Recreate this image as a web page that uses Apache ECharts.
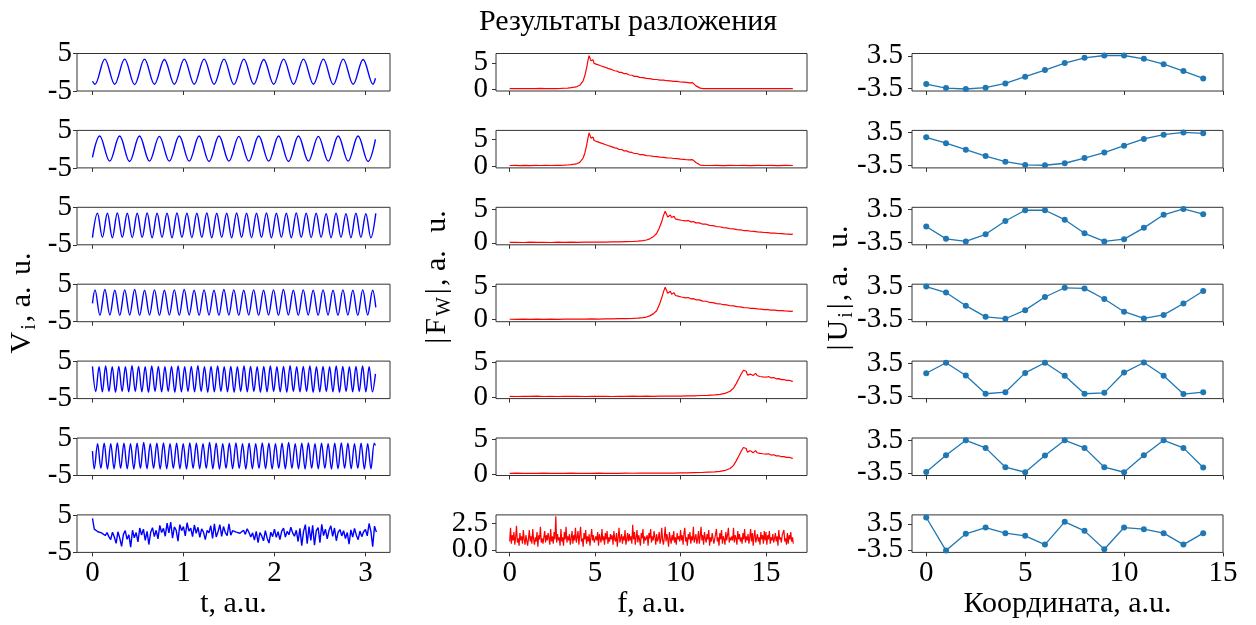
<!DOCTYPE html>
<html>
<head>
<meta charset="utf-8">
<script src="https://cdn.jsdelivr.net/npm/echarts@6.0.0/dist/echarts.min.js"></script>
<style>html,body{margin:0;padding:0;background:#fff}#main{width:1256px;height:625px}</style>
</head>
<body>
<div id="main"></div>
<script>
// ---- данные ----
// левая колонка: экстремумы синусоид (чередуются), шаг между экстремумами dt
var V1 = [-3.2,3.5,-3.2,3.5,-3.3,3.5,-3.2,3.4,-3.2,3.5,-3.2,3.5,-3.2,3.5,-3.3,3.5,-3.2,3.4,-3.2,3.5,-3.2,3.5,-3.2,3.5,-3.3,3.5,-3.2,3.4,-3.2];
var V2 = [3.5,-3.2,3.5,-3.3,3.5,-3.2,3.4,-3.2,3.5,-3.2,3.5,-3.3,3.5,-3.2,3.4,-3.2,3.5,-3.2,3.5,-3.3,3.5,-3.2,3.4,-3.2,3.5,-3.2,3.5,-3.3];
var V3 = [-3.1,3.4,-3.0,3.4,-3.1,3.5,-3.0,3.4,-3.1,3.4,-3.0,3.5,-3.1,3.4,-3.0,3.4,-3.1,3.5,-3.0,3.4,
  -3.1,3.4,-3.0,3.5,-3.1,3.4,-3.0,3.4,-3.1,3.5,-3.0,3.4,-3.1,3.4,-3.0,3.5,-3.1,3.4,-3.0,3.4,
  -3.1,3.5,-3.0,3.4,-3.1,3.4,-3.0,3.3,-3.1,3.4,-3.0,3.3,-3.1,3.4,-3.0,3.3,-3.1,3.4];
var V4 = [3.5,-3.3,3.6,-3.2,3.4,-3.3,3.5,-3.2,3.6,-3.3,3.4,-3.2,3.5,-3.3,3.4,-3.2,3.5,-3.3,3.6,-3.2,
  3.4,-3.3,3.5,-3.2,3.4,-3.3,3.6,-3.2,3.5,-3.3,3.4,-3.2,3.5,-3.3,3.4,-3.2,3.5,-3.3,3.6,-3.2,
  3.4,-3.3,3.5,-3.2,3.4,-3.3,3.5,-3.2,3.4,-3.3,3.5,-3.2,3.4,-3.3,3.5,-3.2,3.4];
var V5 = [3.6,-3.1,3.5,-3.2,3.7,-3.1,3.5,-3.3,3.6,-3.1,3.5,-3.2,3.8,-3.1,3.6,-3.2,3.5,-3.3,3.7,-3.1,
  3.6,-3.2,3.5,-3.1,3.6,-3.3,3.7,-3.2,3.5,-3.1,3.6,-3.2,3.8,-3.1,3.5,-3.3,3.6,-3.2,3.7,-3.1,
  3.5,-3.2,3.6,-3.3,3.5,-3.1,3.7,-3.2,3.6,-3.1,3.5,-3.3,3.6,-3.2,3.7,-3.1,3.5,-3.2,3.6,-3.3,
  3.8,-3.1,3.5,-3.2,3.6,-3.1,3.7,-3.3,3.5,-3.2,3.6,-3.1,3.5,-3.2,3.7,-3.3,3.6,-3.1,3.5,-3.2,
  3.6,-3.1,3.7,-3.2,3.5,-3.2];
var V6 = [-3.2,3.5,-3.1,3.6,-3.3,3.5,-3.2,3.7,-3.1,3.6,-3.2,3.5,-3.3,3.6,-3.1,3.8,-3.2,3.5,-3.1,3.6,
  -3.3,3.7,-3.2,3.5,-3.1,3.6,-3.2,3.5,-3.3,3.7,-3.1,3.6,-3.2,3.5,-3.1,3.8,-3.2,3.6,-3.3,3.5,
  -3.1,3.6,-3.2,3.7,-3.1,3.5,-3.3,3.6,-3.2,3.5,-3.1,3.7,-3.2,3.6,-3.3,3.5,-3.1,3.6,-3.2,3.8,
  -3.1,3.5,-3.2,3.6,-3.3,3.7,-3.1,3.5,-3.2,3.6,-3.1,3.5,-3.3,3.6,-3.2,3.7,-3.1,3.6,-3.2,3.5,
  -3.1,3.6,-3.3,3.5,-3.2,3.6];
// время первого экстремума, шаг, начальная и конечная точки
var WAVES = [
  { ext: V1, t0: 0.026, dt: 0.1092, start: [0, -2.4], end: [3.11, -1.6] },
  { ext: V2, t0: 0.08, dt: 0.1092, start: [0, -2.2], end: [3.11, 2.6] },
  { ext: V3, t0: 0, dt: 0.05463 },
  { ext: V4, t0: 0.0275, dt: 0.0545, start: [0, -0.1], end: [3.114, -1.2] },
  { ext: V5, t0: 0, dt: 0.0362, end: [3.11, 1.6] },
  { ext: V6, t0: 0.02, dt: 0.0362, start: [0, 1.5], end: [3.11, 3.0] }
];
// шумовой сигнал, шаг 0.02
var V7_DT = 0.02;
var V7 = [4.1,1.2,0.8,0.5,1.0,0.2,0.6,-0.5,0.3,-0.8,
  -1.6,0.4,-0.9,-2.6,0.5,-1.2,-3.4,-0.2,0.8,-1.5,
  -0.3,-3.6,0.9,-1.1,0.3,-2.2,1.5,-0.4,1.2,-1.8,
  0.6,-2.9,0.4,1.6,-0.8,0.9,-1.4,2.2,0.3,1.4,
  -0.7,2.8,0.2,3.1,-1.2,1.8,0.9,-2.0,2.4,0.8,
  1.9,-0.6,2.9,0.7,1.5,-0.8,2.3,0.1,1.7,-1.0,
  1.3,0.4,-1.6,0.9,0.2,2.1,-1.3,2.6,-0.9,0.5,
  2.4,-0.7,1.9,0.3,-0.5,2.6,-0.4,0.8,1.1,0.4,
  0.7,0.1,0.5,0.9,-0.2,1.3,0.3,-0.9,0.2,-1.7,
  0.6,-2.4,0.3,-0.6,-1.9,0.8,-1.2,-2.5,0.4,-0.8,
  1.2,-1.0,0.5,-1.6,0.7,1.5,-0.9,0.6,-0.3,1.7,
  0.2,-0.7,0.9,-2.1,1.4,-3.2,0.6,2.4,-2.7,1.9,
  -1.8,2.2,-3.1,0.8,1.6,-2.4,2.5,-0.5,1.2,-1.4,
  0.9,2.1,-0.7,1.5,-1.9,0.4,1.1,-0.6,0.8,-1.3,
  0.3,-2.8,1.0,-0.9,1.4,-0.4,-1.6,0.7,-0.8,0.5,
  1.1,-0.6,2.7,0.6,-3.5,2.0,0.4];

// средняя колонка: спектры [f, |F|]
var F1 = [[0,0.14],[0.3,0.12],[0.6,0.15],[0.9,0.11],[1.2,0.14],[1.5,0.12],[1.8,0.16],[2.1,0.13],[2.4,0.15],[2.7,0.14],[3.0,0.17],[3.2,0.2],[3.4,0.24],[3.6,0.3],[3.8,0.4],[3.95,0.52],[4.1,0.75],[4.2,1.05],[4.3,1.6],[4.4,2.6],[4.5,4.0],[4.58,5.4],[4.65,6.35],[4.7,6.2],[4.76,5.4],[4.82,5.1],[4.88,5.55],[4.94,4.9],[5.0,5.25],[5.06,4.75],[5.12,5.05],[5.2,4.6],[5.28,4.8],[5.36,4.4],[5.45,4.55],[5.55,4.2],[5.65,4.3],[5.75,3.95],[5.85,4.0],[5.95,3.75],[6.05,3.75],[6.15,3.5],[6.28,3.45],[6.4,3.2],[6.55,3.2],[6.7,2.95],[6.85,2.95],[7.0,2.7],[7.15,2.65],[7.3,2.45],[7.45,2.45],[7.6,2.25],[7.8,2.22],[8.0,2.05],[8.2,2.0],[8.4,1.88],[8.6,1.85],[8.8,1.75],[9.0,1.72],[9.2,1.62],[9.4,1.6],[9.6,1.5],[9.8,1.48],[10.0,1.38],[10.2,1.36],[10.35,1.3],[10.45,1.12],[10.52,1.22],[10.6,1.32],[10.7,1.25],[10.8,0.95],[10.9,0.65],[11.0,0.4],[11.15,0.22],[11.35,0.14],[11.7,0.12],[12.1,0.14],[12.5,0.11],[12.9,0.13],[13.3,0.12],[13.7,0.14],[14.1,0.11],[14.5,0.13],[14.9,0.12],[15.3,0.14],[15.7,0.11],[16.1,0.13],[16.57,0.12]];
var F2 = [[0,0.13],[0.3,0.15],[0.6,0.12],[0.9,0.14],[1.2,0.12],[1.5,0.15],[1.8,0.13],[2.1,0.16],[2.4,0.13],[2.7,0.15],[3.0,0.16],[3.2,0.19],[3.4,0.23],[3.6,0.29],[3.8,0.38],[3.95,0.5],[4.1,0.72],[4.2,1.0],[4.3,1.55],[4.4,2.5],[4.5,3.9],[4.58,5.3],[4.65,6.3],[4.7,6.15],[4.76,5.3],[4.82,5.0],[4.88,5.5],[4.94,4.85],[5.0,5.2],[5.06,4.7],[5.12,5.0],[5.2,4.55],[5.28,4.75],[5.36,4.35],[5.45,4.5],[5.55,4.15],[5.65,4.25],[5.75,3.9],[5.85,3.95],[5.95,3.7],[6.05,3.7],[6.15,3.45],[6.28,3.4],[6.4,3.15],[6.55,3.15],[6.7,2.9],[6.85,2.9],[7.0,2.65],[7.15,2.6],[7.3,2.4],[7.45,2.4],[7.6,2.2],[7.8,2.18],[8.0,2.0],[8.2,1.97],[8.4,1.85],[8.6,1.82],[8.8,1.7],[9.0,1.68],[9.2,1.58],[9.4,1.55],[9.6,1.45],[9.8,1.42],[10.0,1.33],[10.2,1.3],[10.35,1.22],[10.5,1.2],[10.6,1.28],[10.7,1.25],[10.8,1.0],[10.9,0.7],[11.0,0.42],[11.15,0.22],[11.35,0.14],[11.7,0.13],[12.1,0.15],[12.5,0.12],[12.9,0.14],[13.3,0.13],[13.7,0.15],[14.1,0.12],[14.5,0.14],[14.9,0.13],[15.3,0.15],[15.7,0.12],[16.1,0.14],[16.57,0.13]];
var F3 = [[0,0.06],[0.4,0.08],[0.8,0.05],[1.2,0.09],[1.6,0.06],[2.0,0.08],[2.4,0.05],[2.8,0.09],[3.2,0.07],[3.6,0.1],[4.0,0.08],[4.4,0.11],[4.8,0.09],[5.2,0.12],[5.6,0.1],[6.0,0.14],[6.4,0.13],[6.8,0.17],[7.2,0.2],[7.5,0.25],[7.8,0.32],[8.0,0.42],[8.2,0.6],[8.4,0.9],[8.6,1.4],[8.75,2.2],[8.9,3.2],[9.0,4.1],[9.1,4.75],[9.17,4.6],[9.25,3.9],[9.32,3.6],[9.4,4.2],[9.48,3.8],[9.55,3.5],[9.62,4.0],[9.7,3.6],[9.78,3.85],[9.85,3.5],[9.95,3.7],[10.05,3.4],[10.15,3.55],[10.3,3.3],[10.45,3.35],[10.6,3.15],[10.75,3.2],[10.9,3.0],[11.1,3.0],[11.3,2.8],[11.5,2.8],[11.7,2.62],[11.9,2.6],[12.1,2.45],[12.3,2.42],[12.5,2.28],[12.7,2.25],[12.9,2.12],[13.1,2.1],[13.3,1.98],[13.5,1.95],[13.7,1.85],[13.9,1.83],[14.1,1.74],[14.3,1.72],[14.5,1.64],[14.7,1.62],[14.9,1.55],[15.1,1.53],[15.3,1.47],[15.5,1.45],[15.7,1.4],[15.9,1.38],[16.1,1.34],[16.3,1.32],[16.5,1.28],[16.57,1.3]];
var F4 = [[0,0.07],[0.4,0.05],[0.8,0.08],[1.2,0.06],[1.6,0.09],[2.0,0.06],[2.4,0.08],[2.8,0.06],[3.2,0.09],[3.6,0.08],[4.0,0.1],[4.4,0.09],[4.8,0.12],[5.2,0.1],[5.6,0.13],[6.0,0.12],[6.4,0.15],[6.8,0.16],[7.2,0.2],[7.5,0.24],[7.8,0.31],[8.0,0.4],[8.2,0.58],[8.4,0.88],[8.6,1.35],[8.75,2.2],[8.9,3.3],[9.0,4.2],[9.1,4.9],[9.17,4.75],[9.25,4.0],[9.32,3.7],[9.4,4.3],[9.48,3.85],[9.55,3.55],[9.62,4.05],[9.7,3.65],[9.78,3.9],[9.85,3.55],[9.95,3.72],[10.05,3.42],[10.15,3.55],[10.3,3.3],[10.45,3.35],[10.6,3.15],[10.75,3.18],[10.9,3.0],[11.1,2.98],[11.3,2.8],[11.5,2.78],[11.7,2.6],[11.9,2.58],[12.1,2.43],[12.3,2.4],[12.5,2.26],[12.7,2.23],[12.9,2.1],[13.1,2.08],[13.3,1.96],[13.5,1.93],[13.7,1.83],[13.9,1.8],[14.1,1.72],[14.3,1.7],[14.5,1.62],[14.7,1.6],[14.9,1.53],[15.1,1.51],[15.3,1.45],[15.5,1.43],[15.7,1.38],[15.9,1.36],[16.1,1.32],[16.3,1.3],[16.5,1.26],[16.57,1.28]];
var F5 = [[0,0.12],[0.4,0.1],[0.8,0.13],[1.2,0.11],[1.6,0.14],[2.0,0.1],[2.4,0.12],[2.8,0.1],[3.2,0.13],[3.6,0.11],[4.0,0.12],[4.4,0.1],[4.8,0.13],[5.2,0.11],[5.6,0.12],[6.0,0.1],[6.4,0.13],[6.8,0.11],[7.2,0.14],[7.6,0.12],[8.0,0.15],[8.4,0.13],[8.8,0.16],[9.2,0.14],[9.6,0.17],[10.0,0.16],[10.4,0.19],[10.8,0.2],[11.2,0.24],[11.6,0.27],[12.0,0.32],[12.3,0.4],[12.6,0.55],[12.9,0.85],[13.1,1.3],[13.25,1.9],[13.4,2.6],[13.55,3.3],[13.68,3.85],[13.76,4.0],[13.84,3.7],[13.92,3.15],[14.0,2.9],[14.08,3.3],[14.16,3.5],[14.24,3.1],[14.32,3.0],[14.4,3.4],[14.48,3.1],[14.56,3.3],[14.64,2.95],[14.72,3.2],[14.82,2.9],[14.92,3.1],[15.02,2.85],[15.15,2.95],[15.3,2.75],[15.45,2.8],[15.6,2.62],[15.75,2.65],[15.9,2.5],[16.05,2.52],[16.2,2.4],[16.35,2.42],[16.5,2.3],[16.57,2.25]];
var F6 = [[0,0.11],[0.4,0.13],[0.8,0.1],[1.2,0.12],[1.6,0.1],[2.0,0.13],[2.4,0.11],[2.8,0.12],[3.2,0.1],[3.6,0.13],[4.0,0.11],[4.4,0.12],[4.8,0.1],[5.2,0.13],[5.6,0.11],[6.0,0.12],[6.4,0.1],[6.8,0.13],[7.2,0.12],[7.6,0.14],[8.0,0.13],[8.4,0.15],[8.8,0.14],[9.2,0.16],[9.6,0.15],[10.0,0.18],[10.4,0.17],[10.8,0.21],[11.2,0.23],[11.6,0.28],[12.0,0.31],[12.3,0.38],[12.6,0.52],[12.9,0.8],[13.1,1.25],[13.25,1.85],[13.4,2.55],[13.55,3.25],[13.68,3.8],[13.76,3.95],[13.84,3.65],[13.92,3.1],[14.0,2.95],[14.08,3.35],[14.16,3.45],[14.24,3.05],[14.32,3.05],[14.4,3.35],[14.48,3.05],[14.56,3.25],[14.64,2.95],[14.72,3.15],[14.82,2.9],[14.92,3.05],[15.02,2.85],[15.15,2.9],[15.3,2.72],[15.45,2.76],[15.6,2.6],[15.75,2.62],[15.9,2.48],[16.05,2.5],[16.2,2.38],[16.35,2.4],[16.5,2.28],[16.57,2.24]];
// шумовой спектр, шаг 0.05
var F7_DF = 0.05;
var F7 = [0.8,2.1,0.6,1.4,0.9,1.7,0.5,1.2,2.3,0.7,1.1,0.4,1.6,0.9,1.3,0.6,1.9,1.0,0.5,1.4,
  1.5,0.4,1.1,1.9,0.8,1.3,0.6,2.0,1.0,0.5,1.2,0.8,1.7,0.3,1.4,1.0,2.2,0.7,1.1,0.6,
  1.2,1.8,0.7,1.4,0.9,1.6,1.1,0.5,2.0,0.8,1.3,0.6,1.7,1.0,3.2,0.7,1.5,0.9,1.2,0.4,
  2.0,0.8,1.2,0.4,1.7,1.0,2.2,0.7,1.3,0.9,1.5,0.5,1.1,1.8,0.6,1.4,0.9,2.1,0.7,1.2,
  1.8,0.5,1.4,2.2,0.8,1.1,0.3,1.6,1.0,1.9,0.6,1.3,0.8,1.5,0.4,1.2,2.0,0.9,1.4,0.7,
  0.6,1.3,0.9,1.7,0.4,1.5,1.1,0.7,2.0,0.9,1.3,0.5,1.6,1.0,1.8,0.6,1.2,0.8,1.5,1.0,
  1.4,0.5,1.8,1.0,0.8,1.6,0.3,1.2,2.1,0.7,1.1,1.5,0.6,1.3,0.9,1.9,0.5,1.0,1.6,0.8,
  1.5,0.9,1.3,0.6,2.4,1.0,1.7,0.5,1.2,1.9,0.7,1.4,1.0,0.4,1.6,1.1,2.0,0.6,1.3,0.9,
  0.8,1.4,0.4,1.6,1.1,2.0,0.7,1.3,0.9,1.8,1.2,0.5,1.5,0.8,1.1,1.7,0.6,1.0,2.1,0.9,
  0.5,1.2,2.2,0.8,1.5,1.0,0.3,1.7,1.1,0.6,1.4,0.9,1.8,0.7,1.2,0.5,1.6,1.0,1.3,0.8,
  1.9,0.9,1.4,0.5,1.6,2.1,0.8,1.2,0.4,1.5,1.0,1.7,0.6,1.3,0.9,2.2,0.7,1.1,1.5,0.6,
  1.0,1.8,0.6,1.3,2.2,0.9,1.4,0.5,1.7,1.1,0.7,1.5,1.0,1.9,0.4,1.2,0.8,1.6,1.1,0.6,
  0.7,1.5,2.0,0.8,1.2,0.4,1.6,1.0,1.9,0.6,1.3,1.0,0.5,1.7,0.9,1.4,2.1,0.7,1.2,0.9,
  1.3,0.9,2.1,0.7,1.4,1.1,0.5,1.8,1.0,1.5,0.8,1.2,0.6,1.6,1.0,2.0,0.7,1.3,0.9,1.5,
  0.6,1.2,2.0,0.8,1.6,0.4,1.3,1.9,0.7,1.1,1.5,0.8,1.2,0.5,1.7,1.0,1.4,0.6,1.8,0.9,
  1.7,0.5,1.4,1.0,1.8,0.6,1.2,0.9,1.5,0.7,1.1,1.6,0.8,1.3,0.4,1.9,1.0,1.2,0.7,1.4,
  1.3,1.9,0.8,1.1,0.5,1.6,0.6,1.4,1.0,1.7,0.8,1.2,0.6];

// правая колонка: моды по координате 0..14
var COORD = [0,1,2,3,4,5,6,7,8,9,10,11,12,13,14];
var U1 = [-2.57,-3.43,-3.64,-3.36,-2.43,-1.0,0.43,1.93,3.07,3.57,3.57,2.86,1.71,0.21,-1.36];
var U2 = [2.52,1.26,-0.14,-1.53,-2.72,-3.42,-3.5,-3.07,-1.95,-0.77,0.7,2.17,3.08,3.57,3.36];
var U3 = [-0.14,-2.79,-3.35,-1.81,1.05,3.36,3.36,1.33,-1.6,-3.35,-2.86,-0.42,2.38,3.64,2.52];
var U4 = [3.5,2.2,-0.62,-3.02,-3.43,-1.58,1.24,3.23,3.09,0.82,-1.92,-3.36,-2.61,-0.14,2.54];
var U5 = [1.39,3.64,0.91,-3.03,-2.69,1.46,3.64,0.85,-3.03,-2.83,1.53,3.7,0.85,-3.1,-2.69];
var U6 = [-3.3,0.3,3.5,1.87,-2.28,-3.37,0.23,3.5,1.87,-2.28,-3.37,0.3,3.5,1.87,-2.35];
var U7 = [5.2,-3.7,0.8,2.5,0.98,0.26,-2.1,4.04,1.6,-3.35,2.5,2.06,0.98,-2.1,0.98];

// подписи делений
var T_TICKS = [0, 1, 2, 3];
var F_TICKS = [0, 5, 10, 15];
var K_TICKS = [0, 5, 10, 15];
var V_TICKS = [-5, 5];
var F_TICKS_Y = [0, 5];
var F7_TICKS_Y = [0, 2.5];
var U_TICKS = [-3.5, 3.5];

// ---- построение ----
var FONT = 'Liberation Serif';
var myChart = echarts.init(document.getElementById('main'));

function waveData(w) {
  var pts = [];
  if (w.start) pts.push(w.start);
  w.ext.forEach(function (v, k) { pts.push([w.t0 + k * w.dt, v]); });
  if (w.end) pts.push(w.end);
  return pts;
}
function stepData(arr, step) {
  return arr.map(function (v, i) { return [i * step, v]; });
}
function pairs(xs, ys) {
  return xs.map(function (x, i) { return [x, ys[i]]; });
}

var cols = [
  { left: 77, width: 313, xmin: -0.17, xmax: 3.27, xticks: T_TICKS, labelMargin: 5, name: 't, a.u.' },
  { left: 496, width: 311, xmin: -0.8, xmax: 17.4, xticks: F_TICKS, labelMargin: 8, name: 'f, a.u.' },
  { left: 912, width: 311, xmin: -0.72, xmax: 15, xticks: K_TICKS, labelMargin: 9, name: 'Координата, a.u.' }
];
var yRanges = [
  [[-5, 5], [-5, 5], [-5, 5], [-5, 5], [-5, 5], [-5, 5], [-5, 5]],
  [[-0.32, 6.76], [-0.32, 6.76], [-0.3, 5.35], [-0.3, 5.35], [-0.2, 5.15], [-0.2, 5.15], [-0.24, 3.34]],
  [[-4.07, 4.0], [-4.07, 4.0], [-4.07, 4.0], [-4.07, 4.0], [-4.07, 4.0], [-4.07, 4.0], [-4.2, 5.9]]
];
var yTicks = [
  [V_TICKS, V_TICKS, V_TICKS, V_TICKS, V_TICKS, V_TICKS, V_TICKS],
  [F_TICKS_Y, F_TICKS_Y, F_TICKS_Y, F_TICKS_Y, F_TICKS_Y, F_TICKS_Y, F7_TICKS_Y],
  [U_TICKS, U_TICKS, U_TICKS, U_TICKS, U_TICKS, U_TICKS, U_TICKS]
];

var leftData = WAVES.map(waveData).concat([stepData(V7, V7_DT)]);
var midData = [F1, F2, F3, F4, F5, F6, stepData(F7, F7_DF)];
var rightData = [U1, U2, U3, U4, U5, U6, U7].map(function (u) { return pairs(COORD, u); });

var grids = [], xAxes = [], yAxes = [], series = [];
function yAxisFor(gi, range, vals, margin, fmt) {
  return {
    type: 'value', gridIndex: gi, min: range[0], max: range[1], position: 'left',
    axisLine: { show: false, onZero: false },
    axisTick: { show: true, length: 4, customValues: vals, lineStyle: { color: '#333' } },
    axisLabel: { show: true, customValues: vals, margin: margin, fontFamily: FONT, fontSize: 29,
                 color: '#000', formatter: fmt, showMinLabel: true, showMaxLabel: true },
    splitLine: { show: false }
  };
}
for (var r = 0; r < 7; r++) {
  for (var c = 0; c < 3; c++) {
    var col = cols[c];
    var gi = grids.length;
    var last = r === 6;
    var rect = { left: col.left, top: 53.5 + 76.9 * r, width: col.width, height: 37.5 };
    grids.push(Object.assign({ show: true, borderColor: '#333', borderWidth: 1, backgroundColor: 'transparent' }, rect));
    xAxes.push({
      type: 'value', gridIndex: gi, min: col.xmin, max: col.xmax, position: 'bottom',
      axisLine: { show: false, onZero: false },
      axisTick: { show: true, length: 4, customValues: col.xticks, lineStyle: { color: '#333' } },
      axisLabel: { show: last, customValues: col.xticks, margin: 6, fontFamily: FONT, fontSize: 29, color: '#000',
                   showMinLabel: true, showMaxLabel: true },
      splitLine: { show: false },
      name: last ? col.name : '', nameLocation: 'middle', nameGap: 37,
      nameTextStyle: { fontFamily: FONT, fontSize: 30, color: '#000' }
    });
    var fmt = (c === 1 && r === 6) ? function (v) { return v.toFixed(1); } : null;
    var ticks = yTicks[c][r];
    yAxes.push(yAxisFor(gi, yRanges[c][r], [ticks[0]], col.labelMargin, fmt));
    var s = { type: 'line', xAxisIndex: gi, yAxisIndex: gi, animation: false, silent: true };
    if (c === 0) {
      s.data = leftData[r];
      s.symbol = 'none';
      s.smooth = last ? false : 0.36;
      s.lineStyle = { color: '#0000ff', width: 1.4 };
    } else if (c === 1) {
      s.data = midData[r];
      s.symbol = 'none';
      s.lineStyle = { color: '#ff0000', width: 1.2 };
    } else {
      s.data = rightData[r];
      s.symbol = 'circle';
      s.symbolSize = 6;
      s.itemStyle = { color: '#1f77b4' };
      s.lineStyle = { color: '#1f77b4', width: 1.3 };
    }
    series.push(s);
  }
}
// вторая (наложенная) сетка на каждую ячейку — только для верхней подписи оси y,
// чтобы две близкие подписи не скрывали друг друга
var nMain = grids.length;
for (var i = 0; i < nMain; i++) {
  var rr = Math.floor(i / 3), cc = i % 3;
  var g = grids[i];
  var gi2 = grids.length;
  grids.push({ left: g.left, top: g.top, width: g.width, height: g.height, show: false });
  xAxes.push({ type: 'value', gridIndex: gi2, show: false, min: cols[cc].xmin, max: cols[cc].xmax });
  var fmt2 = (cc === 1 && rr === 6) ? function (v) { return v.toFixed(1); } : null;
  yAxes.push(yAxisFor(gi2, yRanges[cc][rr], [yTicks[cc][rr][1]], cols[cc].labelMargin, fmt2));
}

// вертикальные подписи осей с нижними индексами
var ctx = document.createElement('canvas').getContext('2d');
function textW(t, size) { ctx.font = size + 'px "' + FONT + '"'; return ctx.measureText(t).width; }
function vLabel(cx, cy, parts) {
  var total = 0;
  parts.forEach(function (p) {
    if (p.gap) { p.w = p.gap; } else { p.size = p.sub ? 20 : 30; p.w = textW(p.t, p.size); }
    total += p.w;
  });
  var x = -total / 2, children = [];
  parts.forEach(function (p) {
    if (!p.gap) {
      children.push({
        type: 'text', x: x, y: p.sub ? 8 : 0,
        style: { text: p.t, fontFamily: FONT, fontSize: p.size, fill: '#000',
                 textAlign: 'left', textVerticalAlign: 'middle', align: 'left', verticalAlign: 'middle' }
      });
    }
    x += p.w;
  });
  return { type: 'group', x: cx, y: cy, rotation: Math.PI / 2, children: children };
}

myChart.setOption({
  animation: false,
  title: {
    text: 'Результаты разложения', left: 'center', top: 2,
    textStyle: { fontFamily: FONT, fontSize: 30, fontWeight: 'normal', color: '#000' }
  },
  grid: grids,
  xAxis: xAxes,
  yAxis: yAxes,
  series: series,
  graphic: [
    vLabel(22, 303, [{ t: 'V' }, { gap: 2 }, { t: 'i', sub: true }, { gap: 2 }, { t: ', a.' }, { gap: 4 }, { t: ' u.' }]),
    vLabel(437, 277, [{ t: '|' }, { gap: 3 }, { t: 'F' }, { gap: 2 }, { t: 'W', sub: true }, { gap: 3 }, { t: '|' },
                      { gap: 2 }, { t: ', a.' }, { gap: 10 }, { t: ' u.' }]),
    vLabel(839, 288, [{ t: '|' }, { gap: 3 }, { t: 'U' }, { gap: 2 }, { t: 'i', sub: true }, { gap: 3 }, { t: '|' },
                      { gap: 2 }, { t: ', a.' }, { gap: 10 }, { t: ' u.' }])
  ]
});
</script>
</body>
</html>
